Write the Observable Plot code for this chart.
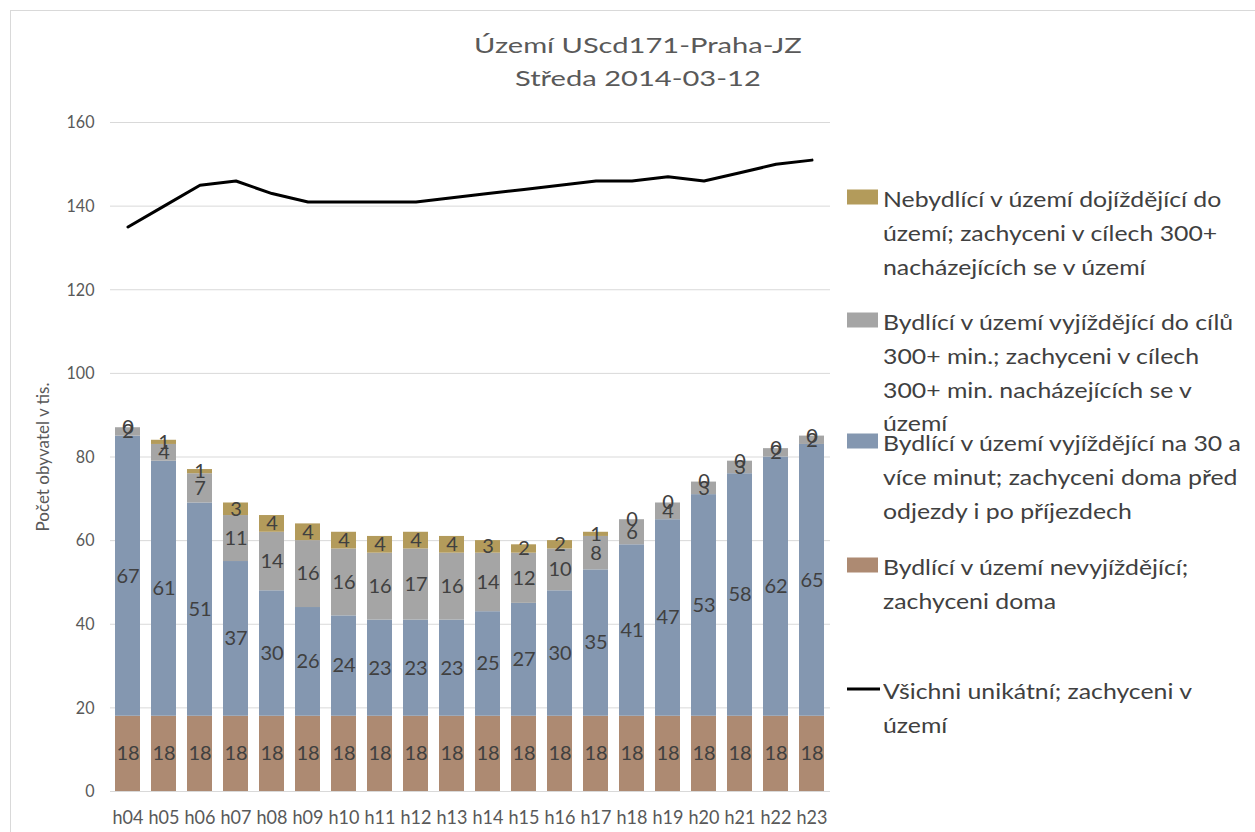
<!DOCTYPE html>
<html><head><meta charset="utf-8">
<script src="https://cdn.jsdelivr.net/npm/d3@7"></script>
<script src="https://cdn.jsdelivr.net/npm/@observablehq/plot@0.6"></script>
<style>
body{margin:0;background:#fff;font-family:Lato,sans-serif;}
#wrap{position:relative;width:1255px;height:832px;overflow:hidden;background:#fff;}
#frame{position:absolute;left:10px;top:10px;width:1260px;height:840px;border:1px solid #d9d9d9;}
#chart{position:absolute;left:0;top:0;}
.title{position:absolute;left:0;width:1276px;text-align:center;font-size:22px;color:#595959;line-height:1;transform:translateY(-50%);}
.title span{display:inline-block;transform-origin:50% 50%;white-space:nowrap;}
.leg{position:absolute;left:883px;font-size:21px;color:#404040;white-space:nowrap;line-height:1;transform:translateY(-50%);}
.leg span{display:inline-block;transform-origin:0 50%;}
.sw{position:absolute;left:847px;width:31px;height:15px;transform:translateY(-50%);}
.swl{position:absolute;left:847px;width:33px;height:3px;background:#000;transform:translateY(-50%);}
</style></head><body>
<div id="wrap"><div id="frame"></div><div id="chart"></div></div>
<script>
const hours = ["h04","h05","h06","h07","h08","h09","h10","h11","h12","h13","h14","h15","h16","h17","h18","h19","h20","h21","h22","h23"];
const stayHome   = [18,18,18,18,18,18,18,18,18,18,18,18,18,18,18,18,18,18,18,18];
const commute30  = [67,61,51,37,30,26,24,23,23,23,25,27,30,35,41,47,53,58,62,65];
const commute300 = [2,4,7,11,14,16,16,16,17,16,14,12,10,8,6,4,3,3,2,2];
const incoming   = [0,1,1,3,4,4,4,4,4,4,3,2,2,1,0,0,0,0,0,0];
const allUnique  = [135,140,145,146,143,141,141,141,141,142,143,144,145,146,146,147,146,148,150,151];
const yTicks = [0,20,40,60,80,100,120,140,160];
const titleLines = ["Území UScd171-Praha-JZ","Středa 2014-03-12"];
const yLabel = "Počet obyvatel v tis.";
const seriesNames = [
  "Bydlící v území nevyjíždějící; zachyceni doma",
  "Bydlící v území vyjíždějící na 30 a více minut; zachyceni doma před odjezdy i po příjezdech",
  "Bydlící v území vyjíždějící do cílů 300+ min.; zachyceni v cílech 300+ min. nacházejících se v území",
  "Nebydlící v území dojíždějící do území; zachyceni v cílech 300+ nacházejících se v území"
];
const lineName = "Všichni unikátní; zachyceni v území";
const seriesColors = ["#ad8a72","#8497b0","#a5a5a5","#b39b5b"];
// legend entries, wrapped as in the reference (top to bottom)
const legendLines = [
  ["Nebydlící v území dojíždějící do","území; zachyceni v cílech 300+","nacházejících se v území"],
  ["Bydlící v území vyjíždějící do cílů","300+ min.; zachyceni v cílech","300+ min. nacházejících se v","území"],
  ["Bydlící v území vyjíždějící na 30 a","více minut; zachyceni doma před","odjezdy i po příjezdech"],
  ["Bydlící v území nevyjíždějící;","zachyceni doma"],
  ["Všichni unikátní; zachyceni v","území"]
];
const legendKeys = [3,2,1,0,-1];
const legendTop = [198,321,442,566,690];
const legendStep = 34;

const series = [stayHome, commute30, commute300, incoming];
const rows = [];
hours.forEach((h,i)=>series.forEach((s,k)=>rows.push({hour:h, series:seriesNames[k], value:s[i]})));
const lineRows = hours.map((h,i)=>({hour:h, value:allUnique[i]}));
const ff = "Lato, sans-serif";

const chart = Plot.plot({
  width:1255, height:832,
  marginLeft:110, marginRight:425, marginTop:122, marginBottom:41,
  style:{fontFamily:ff, background:"transparent", color:"#595959", overflow:"visible"},
  x:{domain:hours, paddingInner:0.3, paddingOuter:0.15, label:null},
  y:{domain:[0,160], label:null},
  color:{domain:seriesNames, range:seriesColors},
  marks:[
    Plot.gridY(yTicks,{stroke:"#d9d9d9", strokeOpacity:1, strokeWidth:1}),
    Plot.barY(rows,{x:"hour", y:"value", fill:"series", order:seriesNames}),
    Plot.ruleY([0],{stroke:"#d9d9d9", strokeWidth:1}),
    Plot.text(rows, Plot.stackY({x:"hour", y:"value", z:"series", order:seriesNames, text:d=>String(d.value), fill:"#404040", fontSize:20, ariaLabel:"data-label"})),
    Plot.line(lineRows,{x:"hour", y:"value", stroke:"#000", strokeWidth:3}),
    Plot.axisY(yTicks,{tickSize:0, tickPadding:16, fontSize:18, fill:"#595959", label:null}),
    Plot.axisX({tickSize:0, tickPadding:18, fontSize:20, fill:"#595959", label:null}),
    Plot.text([yLabel],{frameAnchor:"left", textAnchor:"middle", dx:-67, rotate:-90, fontSize:17, fill:"#595959", ariaLabel:"y-title"})
  ]
});
document.getElementById("chart").appendChild(chart);

// stretch SVG texts horizontally (along their baseline) to match the reference's letter widths
function fitSvg(selector, sample, target){
  const nodes = Array.from(chart.querySelectorAll(selector));
  const ref = nodes.find(t=>t.textContent===sample) || nodes[0];
  if(!ref) return;
  const w = ref.getComputedTextLength();
  if(!w) return;
  const k = target / w;
  nodes.forEach(t=>{const tr=t.getAttribute("transform")||""; t.setAttribute("transform", tr+" scale("+k+",1)");});
}
fitSvg('g[aria-label="x-axis tick label"] text', "h04", 31);
fitSvg('g[aria-label="y-axis tick label"] text', "160", 28);
fitSvg('g[aria-label="data-label"] text', "18", 21);
fitSvg('g[aria-label="y-title"] text', yLabel, 166);

const wrap = document.getElementById("wrap");
const titleSpans = titleLines.map((t,i)=>{
  const d=document.createElement("div"); d.className="title";
  const s=document.createElement("span"); s.textContent=t; d.appendChild(s);
  d.style.top=(45+i*33)+"px"; wrap.appendChild(d); return s;
});
const tk = 328 / titleSpans[0].offsetWidth;
titleSpans.forEach(s=>s.style.transform="scaleX("+tk+")");

const legSpans = [];
legendLines.forEach((lines,n)=>{
  const k = legendKeys[n], y0 = legendTop[n];
  const sw=document.createElement("div");
  if(k>=0){sw.className="sw"; sw.style.background=seriesColors[k];} else sw.className="swl";
  sw.style.top=(y0-1)+"px"; wrap.appendChild(sw);
  lines.forEach((l,j)=>{
    const d=document.createElement("div"); d.className="leg";
    const s=document.createElement("span"); s.textContent=l; d.appendChild(s);
    const step = (n===1 && j===3) ? 33 : legendStep;
    d.style.top=(y0+(j===3 ? 2*legendStep+step : j*legendStep))+"px"; wrap.appendChild(d); legSpans.push(s);
  });
});
const lk = 338 / legSpans[0].offsetWidth;
legSpans.forEach(s=>s.style.transform="scaleX("+lk+")");
</script>
</body></html>
